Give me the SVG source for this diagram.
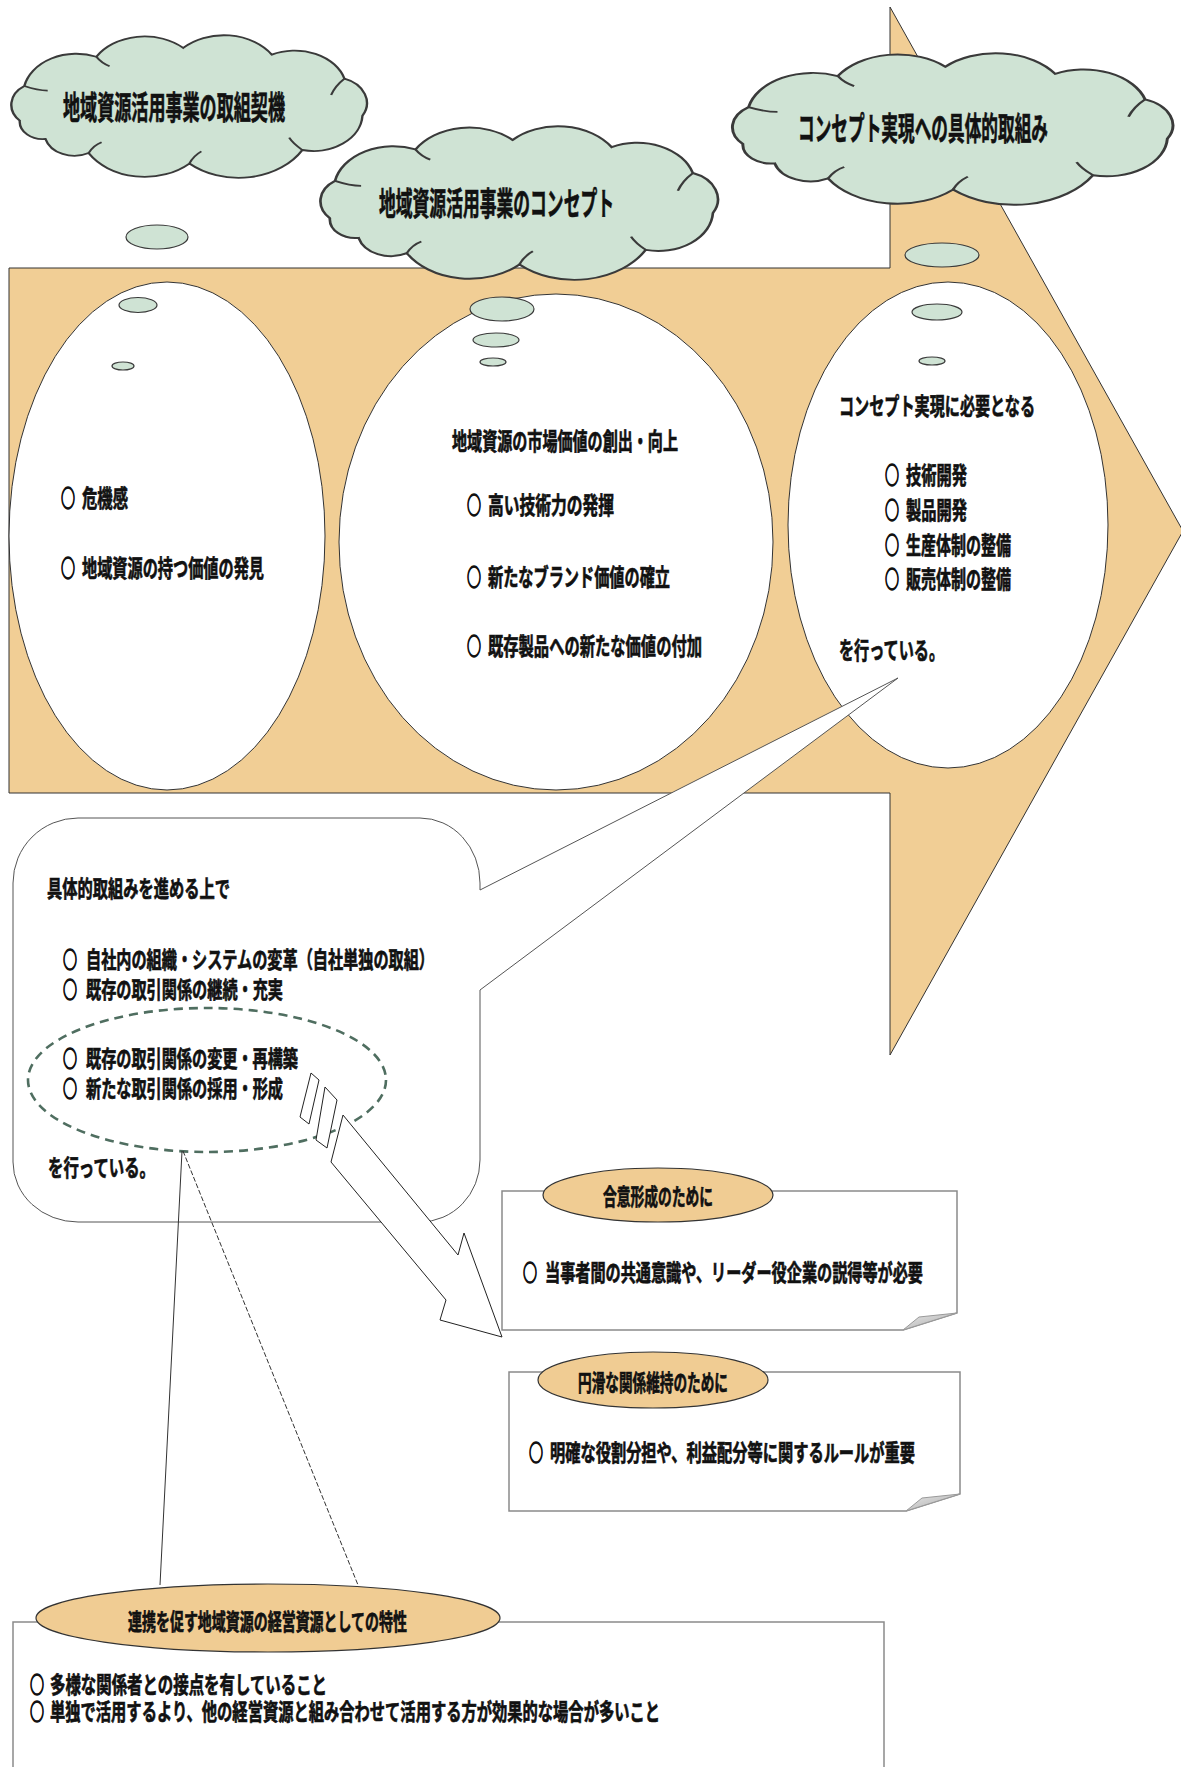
<svg xmlns="http://www.w3.org/2000/svg" width="1181" height="1767" viewBox="0 0 1181 1767">
  <defs>
    <style>
      .t { font-family: "Noto Sans CJK JP", "Noto Sans CJK SC", "DejaVu Sans", sans-serif; font-weight: 700; fill: #111; stroke: #111; stroke-width: 0.7; }
      .b { stroke-width: 1.4; }
      .f32 { font-size: 32px; }
      .f24 { font-size: 24px; }
      .f23 { font-size: 23px; }
      .cloud { fill: #CFE3D4; stroke: #3a3a3a; stroke-width: 1.2; vector-effect: non-scaling-stroke; }
      .lobe { fill: none; stroke: #3a3a3a; stroke-width: 1.1; vector-effect: non-scaling-stroke; }
      .bubble { fill: #CFE3D4; stroke: #3a3a3a; stroke-width: 1.2; }
      .oval { fill: #fff; stroke: #333; stroke-width: 1; }
      .tag { fill: #F0CC93; stroke: #333; stroke-width: 1.2; }
      .box { fill: #fff; stroke: #8a8a8a; stroke-width: 1.5; }
      .curl { fill: url(#curlGrad); stroke: #9a9a9a; stroke-width: 1; }
      .wire { fill: none; stroke: #333; stroke-width: 1; }
    </style>
    <linearGradient id="curlGrad" x1="0" y1="0" x2="1" y2="1">
      <stop offset="0" stop-color="#e8e8e8"/>
      <stop offset="1" stop-color="#a8a8a8"/>
    </linearGradient>
    <!-- cloud outline in a 200x100 unit box -->
    <path id="cloudOutline" d="M15,59.8 A15,15 0 0 1 17.3,37 A26.6,26.6 0 0 1 53.4,17.8 A28.5,28.5 0 0 1 96.9,12 A29,29 0 0 1 141.3,16.4 A26,26 0 0 1 177.7,32.2 A17,17 0 0 1 186.7,56.6 A24.5,24.5 0 0 1 156.6,79.1 A37,37 0 0 1 100,88 A33,33 0 0 1 49.5,81.1 A15,15 0 0 1 27.9,71.8 A11.5,11.5 0 0 1 15,59.8 Z"/>
    <path id="cloudLobes" d="M17.3,37 Q24,40 29,40 M53.4,17.8 Q56,22 60,24 M177.7,32.2 Q173,37 171,43 M100,88 Q102,83 106,80 M49.5,81.1 Q52,76 56,74 M156.6,79.1 Q152,75 150,71"/>
  </defs>

  <!-- main process arrow -->
  <g id="process-arrow">
    <path d="M9,268 H890 V7 L1183,531 L890,1055 V793 H9 Z" fill="#F1CE95" stroke="#333" stroke-width="1"/>
  </g>

  <!-- stage ovals -->
  <g id="stage-1">
    <ellipse class="oval" cx="167" cy="536" rx="158" ry="254"/>
  </g>
  <g id="stage-2">
    <ellipse class="oval" cx="556" cy="542" rx="217" ry="248"/>
  </g>
  <g id="stage-3">
    <ellipse class="oval" cx="948" cy="525" rx="160" ry="243"/>
  </g>

  <!-- thought bubbles -->
  <g id="bubbles">
    <ellipse class="bubble" cx="157" cy="237" rx="31" ry="12"/>
    <ellipse class="bubble" cx="138" cy="305" rx="19" ry="7.5"/>
    <ellipse class="bubble" cx="123" cy="366" rx="11" ry="4"/>
    <ellipse class="bubble" cx="502" cy="309" rx="32" ry="12"/>
    <ellipse class="bubble" cx="496" cy="340" rx="23" ry="7"/>
    <ellipse class="bubble" cx="493" cy="362" rx="13" ry="4"/>
    <ellipse class="bubble" cx="942" cy="255" rx="37" ry="12"/>
    <ellipse class="bubble" cx="937" cy="312" rx="25" ry="8"/>
    <ellipse class="bubble" cx="932" cy="361" rx="13" ry="4"/>
  </g>

  <!-- stage headings -->
  <g id="cloud-1">
    <g transform="translate(-10.2,29.7) scale(1.996,1.521)">
      <use href="#cloudOutline" class="cloud"/>
      <use href="#cloudLobes" class="lobe"/>
    </g>
    <text class="t f32" x="63" y="119" textLength="222" lengthAdjust="spacingAndGlyphs">地域資源活用事業の取組契機</text>
  </g>
  <g id="cloud-2">
    <g transform="translate(296.4,120.3) scale(2.231,1.638)">
      <use href="#cloudOutline" class="cloud"/>
      <use href="#cloudLobes" class="lobe"/>
    </g>
    <text class="t f32" x="379" y="215" textLength="235" lengthAdjust="spacingAndGlyphs">地域資源活用事業のコンセプト</text>
  </g>
  <g id="cloud-3">
    <g transform="translate(705.8,47.3) scale(2.472,1.617)">
      <use href="#cloudOutline" class="cloud"/>
      <use href="#cloudLobes" class="lobe"/>
    </g>
    <text class="t f32" x="798" y="140" textLength="250" lengthAdjust="spacingAndGlyphs">コンセプト実現への具体的取組み</text>
  </g>

  <!-- stage contents -->
  <g id="stage-1-text">
    <text class="t b f24" x="61" y="507" textLength="14" lengthAdjust="spacingAndGlyphs">○</text>
    <text class="t f24" x="82" y="507" textLength="46" lengthAdjust="spacingAndGlyphs">危機感</text>
    <text class="t b f24" x="61" y="577" textLength="14" lengthAdjust="spacingAndGlyphs">○</text>
    <text class="t f24" x="82" y="577" textLength="182" lengthAdjust="spacingAndGlyphs">地域資源の持つ価値の発見</text>
  </g>
  <g id="stage-2-text">
    <text class="t f24" x="452" y="450" textLength="226" lengthAdjust="spacingAndGlyphs">地域資源の市場価値の創出・向上</text>
    <text class="t b f24" x="467" y="514" textLength="14" lengthAdjust="spacingAndGlyphs">○</text>
    <text class="t f24" x="488" y="514" textLength="126" lengthAdjust="spacingAndGlyphs">高い技術力の発揮</text>
    <text class="t b f24" x="467" y="586" textLength="14" lengthAdjust="spacingAndGlyphs">○</text>
    <text class="t f24" x="488" y="586" textLength="182" lengthAdjust="spacingAndGlyphs">新たなブランド価値の確立</text>
    <text class="t b f24" x="467" y="655" textLength="14" lengthAdjust="spacingAndGlyphs">○</text>
    <text class="t f24" x="488" y="655" textLength="214" lengthAdjust="spacingAndGlyphs">既存製品への新たな価値の付加</text>
  </g>
  <g id="stage-3-text">
    <text class="t f24" x="839" y="415" textLength="196" lengthAdjust="spacingAndGlyphs">コンセプト実現に必要となる</text>
    <text class="t f24"><tspan class="b" x="885" y="484" textLength="14" lengthAdjust="spacingAndGlyphs">○</tspan><tspan x="906" y="484" textLength="61" lengthAdjust="spacingAndGlyphs">技術開発</tspan><tspan class="b" x="885" y="519" textLength="14" lengthAdjust="spacingAndGlyphs">○</tspan><tspan x="906" y="519" textLength="61" lengthAdjust="spacingAndGlyphs">製品開発</tspan><tspan class="b" x="885" y="554" textLength="14" lengthAdjust="spacingAndGlyphs">○</tspan><tspan x="906" y="554" textLength="105" lengthAdjust="spacingAndGlyphs">生産体制の整備</tspan><tspan class="b" x="885" y="588" textLength="14" lengthAdjust="spacingAndGlyphs">○</tspan><tspan x="906" y="588" textLength="105" lengthAdjust="spacingAndGlyphs">販売体制の整備</tspan></text>
    <text class="t f24" x="839" y="659" textLength="105" lengthAdjust="spacingAndGlyphs">を行っている。</text>
  </g>

  <!-- callout with pointer to stage 3 -->
  <g id="callout">
    <path d="M78,818 H420 A60,65 0 0 1 480,883 V890 L898,678 L480,990 V1160 A60,62 0 0 1 420,1222 H78 A65,60 0 0 1 13,1162 V883 A65,65 0 0 1 78,818 Z" fill="#fff" stroke="#555" stroke-width="1"/>
    <text class="t f23" x="47" y="897" textLength="183" lengthAdjust="spacingAndGlyphs">具体的取組みを進める上で</text>
    <text class="t f23"><tspan class="b" x="63" y="968" textLength="14" lengthAdjust="spacingAndGlyphs">○</tspan><tspan x="86" y="968" textLength="348" lengthAdjust="spacingAndGlyphs">自社内の組織・システムの変革（自社単独の取組）</tspan><tspan class="b" x="63" y="998" textLength="14" lengthAdjust="spacingAndGlyphs">○</tspan><tspan x="86" y="998" textLength="197" lengthAdjust="spacingAndGlyphs">既存の取引関係の継続・充実</tspan></text>
    <text class="t f23"><tspan class="b" x="63" y="1067" textLength="14" lengthAdjust="spacingAndGlyphs">○</tspan><tspan x="86" y="1067" textLength="212" lengthAdjust="spacingAndGlyphs">既存の取引関係の変更・再構築</tspan><tspan class="b" x="63" y="1097" textLength="14" lengthAdjust="spacingAndGlyphs">○</tspan><tspan x="86" y="1097" textLength="197" lengthAdjust="spacingAndGlyphs">新たな取引関係の採用・形成</tspan></text>
    <text class="t f23" x="48" y="1176" textLength="107" lengthAdjust="spacingAndGlyphs">を行っている。</text>
  </g>

  <g id="highlight">
    <ellipse cx="207" cy="1080" rx="179" ry="72" fill="none" stroke="#4F6E60" stroke-width="2.6" stroke-dasharray="9 6"/>
  </g>

  <!-- connectors -->
  <g id="connectors">
    <line class="wire" x1="182" y1="1151" x2="160" y2="1585"/>
    <line class="wire" x1="183" y1="1151" x2="358" y2="1585" stroke-dasharray="5 2"/>
    <polygon points="311,1073 319,1080 309,1124 300,1117" fill="#fff" stroke="#222" stroke-width="1"/>
    <polygon points="325,1087 337,1100 327,1148 316,1140" fill="#fff" stroke="#222" stroke-width="1"/>
    <polygon points="343,1115 458,1255 464,1233 502,1337 440,1320 446,1300 331,1162" fill="#fff" stroke="#222" stroke-width="1"/>
  </g>

  <!-- consensus note -->
  <g id="note-consensus">
    <path class="box" d="M502,1191 H957 V1313 L903,1330 H502 Z"/>
    <polygon class="curl" points="957,1313 919,1317 903,1330"/>
    <ellipse class="tag" cx="658" cy="1195" rx="115" ry="27"/>
    <text class="t f23" x="603" y="1205" textLength="110" lengthAdjust="spacingAndGlyphs">合意形成のために</text>
    <text class="t b f23" x="523" y="1281" textLength="14" lengthAdjust="spacingAndGlyphs">○</text>
    <text class="t f23" x="545" y="1281" textLength="378" lengthAdjust="spacingAndGlyphs">当事者間の共通意識や、リーダー役企業の説得等が必要</text>
  </g>

  <!-- relationship note -->
  <g id="note-relationship">
    <path class="box" d="M509,1372 H960 V1494 L906,1511 H509 Z"/>
    <polygon class="curl" points="960,1494 922,1498 906,1511"/>
    <ellipse class="tag" cx="653" cy="1380" rx="115" ry="28"/>
    <text class="t f23" x="578" y="1391" textLength="150" lengthAdjust="spacingAndGlyphs">円滑な関係維持のために</text>
    <text class="t b f23" x="529" y="1461" textLength="14" lengthAdjust="spacingAndGlyphs">○</text>
    <text class="t f23" x="550" y="1461" textLength="365" lengthAdjust="spacingAndGlyphs">明確な役割分担や、利益配分等に関するルールが重要</text>
  </g>

  <!-- resource characteristics -->
  <g id="note-characteristics">
    <rect class="box" x="13" y="1622" width="871" height="170"/>
    <ellipse class="tag" cx="268" cy="1618" rx="232" ry="34"/>
    <text class="t f23" x="128" y="1630" textLength="279" lengthAdjust="spacingAndGlyphs">連携を促す地域資源の経営資源としての特性</text>
    <text class="t f23"><tspan class="b" x="30" y="1693" textLength="14" lengthAdjust="spacingAndGlyphs">○</tspan><tspan x="50" y="1693" textLength="277" lengthAdjust="spacingAndGlyphs">多様な関係者との接点を有していること</tspan><tspan class="b" x="30" y="1720" textLength="14" lengthAdjust="spacingAndGlyphs">○</tspan><tspan x="50" y="1720" textLength="610" lengthAdjust="spacingAndGlyphs">単独で活用するより、他の経営資源と組み合わせて活用する方が効果的な場合が多いこと</tspan></text>
  </g>
</svg>
